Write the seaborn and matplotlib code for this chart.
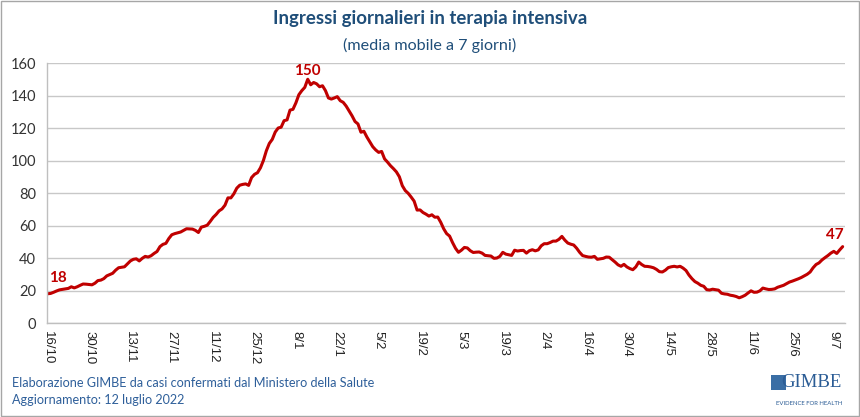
import pandas as pd
import matplotlib.pyplot as plt
import seaborn as sns
from matplotlib.patches import Rectangle

sns.set_theme(style="white")
plt.rcParams['font.family'] = ['Lato', 'DejaVu Sans']

# Ingressi giornalieri in TI (media mobile 7 gg), dal 16/10/2021, blocchi di 14 giorni
start = "2021-10-16"
b00 = [18.0, 18.2, 18.9, 19.7, 20.4, 20.7, 21.0, 21.3, 22.3, 21.6, 22.3, 23.2, 24.0, 23.9]
b01 = [23.7, 23.5, 24.5, 26.1, 26.4, 27.3, 29.0, 29.8, 30.6, 32.5, 34.0, 34.3, 34.6, 36.4]
b02 = [38.2, 39.2, 39.5, 38.2, 39.8, 41.0, 40.6, 41.4, 42.8, 44.0, 47.0, 48.4, 49.0, 52.0]
b03 = [54.3, 55.0, 55.5, 56.0, 57.0, 58.0, 57.9, 57.8, 57.0, 55.7, 59.0, 59.5, 60.2, 62.5]
b04 = [65.0, 66.8, 69.0, 70.2, 72.5, 77.0, 77.0, 79.5, 83.0, 84.8, 85.3, 85.6, 84.7, 89.5]
b05 = [91.5, 92.5, 95.5, 100.0, 106.0, 110.5, 113.0, 117.5, 120.0, 120.5, 124.5, 125.0, 131.0, 131.5]
b06 = [135.5, 140.5, 143.0, 145.0, 150.0, 146.6, 148.0, 147.2, 145.4, 146.0, 143.0, 138.5, 137.8, 138.5]
b07 = [139.3, 136.8, 135.8, 133.5, 130.5, 127.5, 124.0, 122.5, 117.4, 118.0, 114.5, 111.5, 108.5, 106.5]
b08 = [105.0, 105.6, 101.0, 99.0, 96.8, 95.0, 93.0, 90.0, 84.5, 81.5, 79.8, 77.5, 75.0, 69.5]
b09 = [69.6, 68.0, 67.0, 65.8, 66.6, 65.1, 65.2, 62.0, 58.0, 55.0, 53.5, 49.5, 46.0, 43.5]
b10 = [44.8, 46.5, 46.2, 44.5, 43.4, 43.6, 43.7, 43.0, 41.6, 41.4, 41.2, 39.8, 40.0, 41.0]
b11 = [43.5, 42.4, 42.0, 41.6, 44.8, 44.3, 44.6, 44.7, 43.0, 44.5, 45.1, 44.4, 45.0, 47.5]
b12 = [48.8, 48.8, 49.5, 50.4, 50.4, 51.5, 53.3, 51.0, 49.2, 48.5, 48.0, 46.0, 43.5, 41.5]
b13 = [41.0, 40.6, 40.5, 41.0, 39.2, 39.5, 39.8, 40.6, 40.5, 39.0, 37.5, 35.8, 34.9, 36.1]
b14 = [34.5, 33.5, 32.8, 34.5, 37.5, 36.0, 34.9, 34.8, 34.5, 34.0, 33.0, 31.6, 31.4, 32.5]
b15 = [34.1, 34.6, 34.9, 34.5, 34.9, 33.8, 32.3, 29.5, 27.3, 25.5, 24.5, 23.2, 22.6, 20.5]
b16 = [20.3, 20.8, 20.5, 20.2, 18.3, 17.9, 17.7, 17.1, 16.8, 16.3, 15.5, 16.2, 17.1, 18.5]
b17 = [19.8, 18.9, 19.0, 19.8, 21.5, 21.0, 20.6, 20.7, 21.0, 22.0, 22.6, 23.2, 24.2, 25.2]
b18 = [25.8, 26.5, 27.2, 28.0, 29.0, 30.0, 31.4, 34.0, 36.0, 37.0, 38.8, 40.2, 41.5, 43.0]
b19 = [44.1, 42.8, 45.0, 47.0]

values = (b00 + b01 + b02 + b03 + b04 + b05 + b06 + b07 + b08 + b09
          + b10 + b11 + b12 + b13 + b14 + b15 + b16 + b17 + b18 + b19)
dates = pd.date_range(start, periods=len(values), freq="D")
df = pd.DataFrame({"data": dates, "ingressi": values})

red = "#c00000"
blue = "#1f4e79"
grid = "#c8c8c8"

fig = plt.figure(figsize=(8.6, 4.17), dpi=100)
ax = fig.add_axes([0.0547, 0.2254, 0.928, 0.6235])

sns.lineplot(data=df, x="data", y="ingressi", color=red, linewidth=2.2, ax=ax)

ax.set_ylim(0, 160)
ax.set_yticks(range(0, 161, 20))
ax.set_xlim(dates[0] - pd.Timedelta(hours=5), dates[-1] + pd.Timedelta(hours=20))
tick_dates = dates[::14]
ax.set_xticks(tick_dates)
ax.set_xticklabels([f"{d.day}/{d.month}" for d in tick_dates], rotation=270,
                   fontsize=9.5, family=['Liberation Sans', 'DejaVu Sans'], color="#222222")
ax.tick_params(axis='y', labelsize=10.5, colors="#333333", length=0, pad=8)
ax.tick_params(axis='x', length=0, pad=6)
ax.set_xlabel("")
ax.set_ylabel("")
ax.grid(axis='y', color=grid, linewidth=1)
for s in ['top', 'right']:
    ax.spines[s].set_visible(False)
for s in ['left', 'bottom']:
    ax.spines[s].set_color("#bfbfbf")
    ax.spines[s].set_linewidth(1)

# etichette: primo valore, picco, ultimo valore
first = df.iloc[0]
peak = df.loc[df["ingressi"].idxmax()]
last = df.iloc[-1]
ax.annotate(f"{first.ingressi:.0f}", (first.data, first.ingressi), xytext=(1, 6),
            textcoords='offset points', ha='left', va='bottom', color=red,
            fontsize=11, fontweight='bold')
ax.annotate(f"{peak.ingressi:.0f}", (peak.data, peak.ingressi), xytext=(0, 1),
            textcoords='offset points', ha='center', va='bottom', color=red,
            fontsize=11, fontweight='bold')
ax.annotate(f"{last.ingressi:.0f}", (last.data, last.ingressi), xytext=(1, 3),
            textcoords='offset points', ha='right', va='bottom', color=red,
            fontsize=11, fontweight='bold')

# titoli
fig.text(0.5, 0.955, "Ingressi giornalieri in terapia intensiva", ha='center', va='center',
         fontsize=13.4, fontweight='bold', color=blue)
fig.text(0.5, 0.890, "(media mobile a 7 giorni)", ha='center', va='center',
         fontsize=11.6, color=blue)

# note in basso
fig.text(0.014, 0.082, "Elaborazione GIMBE da casi confermati dal Ministero della Salute",
         ha='left', va='center', fontsize=9.1, color="#2e5f9a")
fig.text(0.014, 0.040, "Aggiornamento: 12 luglio 2022", ha='left', va='center',
         fontsize=9.1, color="#2e5f9a")

# logo GIMBE (solo testo)
fig.patches.append(Rectangle((0.8965, 0.064), 0.018, 0.037, transform=fig.transFigure,
                             facecolor="#3a6ea5", edgecolor='none'))
fig.text(0.979, 0.082, "GIMBE", ha='right', va='center', fontsize=13.5,
         family=['Liberation Serif', 'DejaVu Serif'], color="#2b5c95")
fig.text(0.979, 0.032, "EVIDENCE FOR HEALTH", ha='right', va='center', fontsize=4.3,
         color="#2b5c95")

# cornice
fig.patches.append(Rectangle((0.0015, 0.002), 0.997, 0.996, transform=fig.transFigure,
                             facecolor='none', edgecolor="#a6a6a6", linewidth=1))

fig.savefig("out.png", dpi=100)
